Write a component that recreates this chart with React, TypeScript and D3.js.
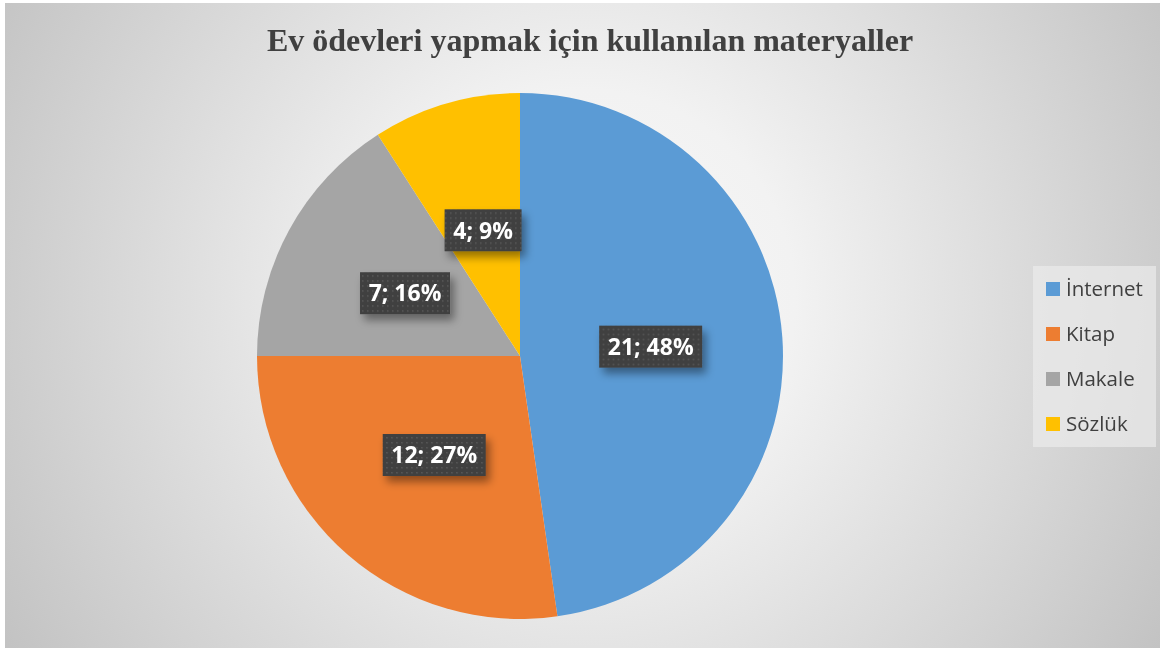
import { arc, pie, scaleOrdinal } from "d3";

const categories = ["İnternet", "Kitap", "Makale", "Sözlük"];
const counts = [21, 12, 7, 4];
const percentLabels = ["48%", "27%", "16%", "9%"];
const colors = ["#5B9BD5", "#ED7D31", "#A5A5A5", "#FFC000"];
const title = "Ev ödevleri yapmak için kullanılan materyaller";

type Slice = { name: string; value: number; pct: string };

export default function App() {
  const width = 1160;
  const height = 648;
  const cx = 520;
  const cy = 356;
  const radius = 263;
  const labelRadius = 131;

  const rows: Slice[] = categories.map((name, i) => ({
    name,
    value: counts[i],
    pct: percentLabels[i],
  }));

  const color = scaleOrdinal<string, string>().domain(categories).range(colors);

  const arcs = pie<Slice>()
    .value((d) => d.value)
    .sort(null)(rows);

  const slicePath = arc<any>().innerRadius(0).outerRadius(radius);
  const labelArc = arc<any>().innerRadius(labelRadius).outerRadius(labelRadius);

  const labelFont = "'Open Sans', 'DejaVu Sans', sans-serif";

  return (
    <div style={{ position: "fixed", left: 0, top: 0 }}>
      <svg width={width} height={height} viewBox={`0 0 ${width} ${height}`}>
        <defs>
          <radialGradient
            id="bg"
            gradientUnits="userSpaceOnUse"
            cx={585}
            cy={300}
            r={700}
          >
            <stop offset="0" stopColor="#f8f8f8" />
            <stop offset="0.3" stopColor="#f2f2f2" />
            <stop offset="1" stopColor="#c0c0c0" />
          </radialGradient>
          <pattern id="dots" width={5} height={5} patternUnits="userSpaceOnUse">
            <rect width={5} height={5} fill="#404040" />
            <rect x={2} y={2} width={1.5} height={1.5} fill="#595959" />
          </pattern>
          <filter id="shadow" x="-20%" y="-30%" width="150%" height="190%">
            <feDropShadow dx={4} dy={6} stdDeviation={4} floodColor="#000" floodOpacity={0.4} />
          </filter>
        </defs>

        <rect x={5} y={3} width={width - 5} height={height - 3} fill="url(#bg)" />

        <text
          x={590}
          y={51}
          textAnchor="middle"
          fontFamily="'Liberation Serif', 'Times New Roman', serif"
          fontWeight="bold"
          fontSize={32}
          fill="#404040"
        >
          {title}
        </text>

        <g transform={`translate(${cx},${cy})`}>
          {arcs.map((a) => (
            <path key={a.data.name} d={slicePath(a) ?? ""} fill={color(a.data.name)} />
          ))}
          {arcs.map((a) => {
            const [lx, ly] = labelArc.centroid(a);
            const label = `${a.data.value}; ${a.data.pct}`;
            const boxW = label.length * 13 + 12;
            const boxH = 42;
            return (
              <g key={`lbl-${a.data.name}`} transform={`translate(${lx},${ly})`}>
                <rect
                  x={-boxW / 2}
                  y={-boxH / 2}
                  width={boxW}
                  height={boxH}
                  fill="url(#dots)"
                  filter="url(#shadow)"
                />
                <text
                  textAnchor="middle"
                  dy="0.36em"
                  fontFamily={labelFont}
                  fontWeight="bold"
                  fontSize={23}
                  fill="#ffffff"
                >
                  {label}
                </text>
              </g>
            );
          })}
        </g>

        <g transform="translate(1033,266)">
          <rect width={123} height={181} fill="#ebebeb" opacity={0.7} />
          {categories.map((name, i) => (
            <g key={name} transform={`translate(13,${23 + i * 45})`}>
              <rect x={0} y={-7} width={14} height={14} fill={color(name)} />
              <text
                x={20}
                dy="0.35em"
                fontFamily={labelFont}
                fontSize={20.5}
                fill="#404040"
              >
                {name}
              </text>
            </g>
          ))}
        </g>
      </svg>
    </div>
  );
}
